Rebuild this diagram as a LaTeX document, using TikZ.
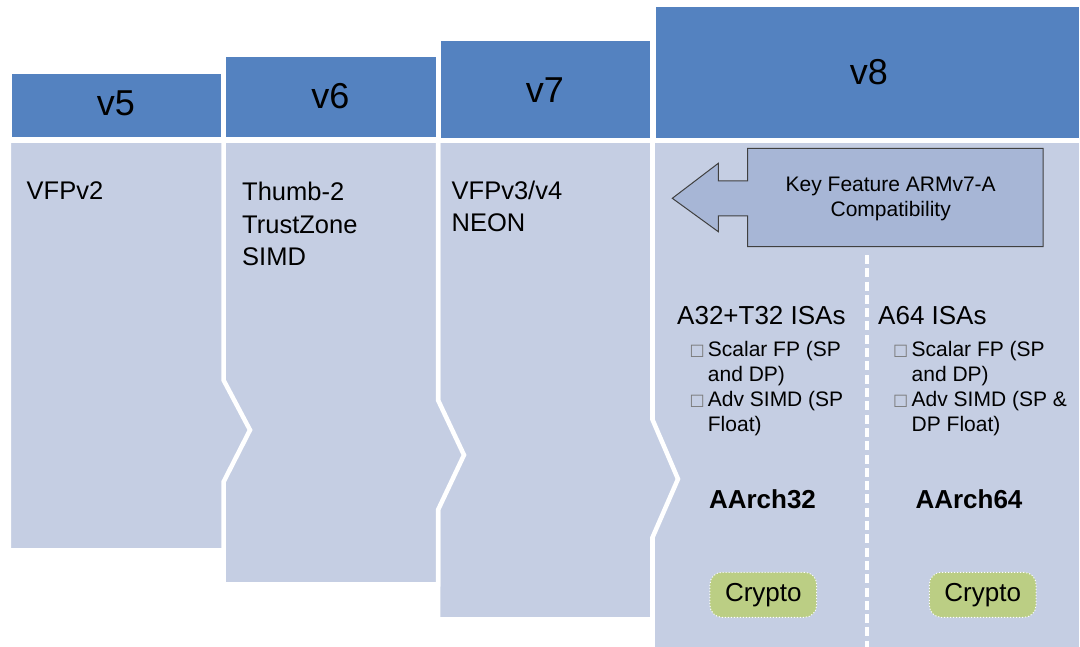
\documentclass[tikz,border=0pt]{standalone}
\usepackage{fontspec}
\setmainfont{Liberation Sans}
\newfontfamily\symfont{DejaVu Sans}
\definecolor{hdr}{RGB}{84,130,192}
\definecolor{bodyc}{RGB}{197,206,227}
\definecolor{keyc}{RGB}{167,182,214}
\definecolor{cryc}{RGB}{187,206,132}
\definecolor{keyborder}{RGB}{64,64,64}
\definecolor{boxgray}{RGB}{120,120,120}
\begin{document}
\begin{tikzpicture}[x=1pt,y=-1pt,
  hdrbox/.style={fill=hdr},
  bodyshape/.style={fill=bodyc, draw=white, line width=4.5pt, line join=miter},
  hdrlabel/.style={font=\fontsize{36}{40}\selectfont, inner sep=0},
  bodytext/.style={font=\fontsize{25.5}{30}\selectfont, inner sep=0, anchor=base west},
  isatext/.style={font=\fontsize{26}{30}\selectfont, inner sep=0, anchor=base west},
  bullettext/.style={font=\fontsize{21}{25}\selectfont, inner sep=0, anchor=base west},
  bulletmark/.style={font=\symfont\fontsize{16}{18}\selectfont, text=boxgray, inner sep=0, anchor=base west},
  archtext/.style={font=\bfseries\fontsize{26}{30}\selectfont, inner sep=0, anchor=base},
  keytext/.style={font=\fontsize{21}{25}\selectfont, inner sep=0, anchor=base},
  cryptobox/.style={fill=cryc, draw=white, dotted, line width=1pt, rounded corners=12pt,
    minimum width=106.7pt, minimum height=45pt, inner sep=0, font=\fontsize{26}{30}\selectfont},
  keyarrow/.style={fill=keyc, draw=keyborder, line width=1pt, line join=miter},
  divider/.style={draw=white, line width=4pt, dash pattern=on 9pt off 4.3pt}
]
\useasboundingbox (0,0) rectangle (1080,647);

% headers
\fill[hdrbox] (11.5,74) rectangle (221,137.5);
\fill[hdrbox] (226,57) rectangle (435.7,137.5);
\fill[hdrbox] (440.7,40.7) rectangle (650,138);
\fill[hdrbox] (655.7,6.7) rectangle (1078.5,138);
\node[hdrlabel] (l5) at (116,103.7) {v5};
\node[hdrlabel] (l6) at (330.5,96.5) {v6};
\node[hdrlabel] (l7) at (545,90.3) {v7};
\node[hdrlabel] (l8) at (869,72.5) {v8};

% bodies
\fill[bodyc] (654.5,143) rectangle (1078.5,647);
\filldraw[bodyshape] (438,140.75) -- (652.25,140.75) -- (652.25,419) -- (678,479) -- (652.25,538) -- (652.25,619.25) -- (438,619.25) -- cycle;
\filldraw[bodyshape] (223.5,140.75) -- (438,140.75) -- (438,400) -- (464,455) -- (438,510) -- (438,584.25) -- (223.5,584.25) -- cycle;
\filldraw[bodyshape] (8.75,140.75) -- (223.5,140.75) -- (223.5,380) -- (250,430) -- (223.5,482) -- (223.5,550.25) -- (8.75,550.25) -- cycle;

% body texts
\node[bodytext] (t5) at (26.5,200) {VFPv2};
\node[bodytext] (t6a) at (242,201) {Thumb-2};
\node[bodytext] (t6b) at (242,233.3) {TrustZone};
\node[bodytext] (t6c) at (242,265.6) {SIMD};
\node[bodytext] (t7a) at (451.5,200) {VFPv3/v4};
\node[bodytext] (t7b) at (451.5,232) {NEON};

% v8 content
\draw[divider] (867.3,255) -- (867.3,647);
\filldraw[keyarrow] (747.7,148.3) -- (1043,148.3) -- (1043,246.7) -- (747.7,246.7) -- (747.7,216) -- (718.3,216) -- (718.3,231.7) -- (672.3,198.3) -- (718.3,163.3) -- (718.3,181) -- (747.7,181) -- cycle;
\node[keytext] (k1) at (890.7,191.5) {Key Feature ARMv7-A};
\node[keytext] (k2) at (890.7,217) {Compatibility};

\node[isatext] (isa32) at (677,324.3) {A32+T32 ISAs};
\node[isatext] (isa64) at (878,324.3) {A64 ISAs};

\node[bulletmark] (b1) at (689.5,355.5) {□};
\node[bullettext] (s1a) at (707.7,356.5) {Scalar FP (SP};
\node[bullettext] (s1b) at (707.7,381.5) {and DP)};
\node[bulletmark] (b2) at (689.5,405.5) {□};
\node[bullettext] (s1c) at (707.7,406.5) {Adv SIMD (SP};
\node[bullettext] (s1d) at (707.7,431.5) {Float)};

\node[bulletmark] (b3) at (893,355.5) {□};
\node[bullettext] (s2a) at (911.5,356.5) {Scalar FP (SP};
\node[bullettext] (s2b) at (911.5,381.5) {and DP)};
\node[bulletmark] (b4) at (893,405.5) {□};
\node[bullettext] (s2c) at (911.5,406.5) {Adv SIMD (SP \&};
\node[bullettext] (s2d) at (911.5,431.5) {DP Float)};

\node[archtext] (a32) at (762.5,508) {AArch32};
\node[archtext] (a64) at (969,508) {AArch64};

\node[cryptobox] (c32) at (763.3,594.8) {Crypto};
\node[cryptobox] (c64) at (982.7,594.8) {Crypto};
\end{tikzpicture}
\end{document}
